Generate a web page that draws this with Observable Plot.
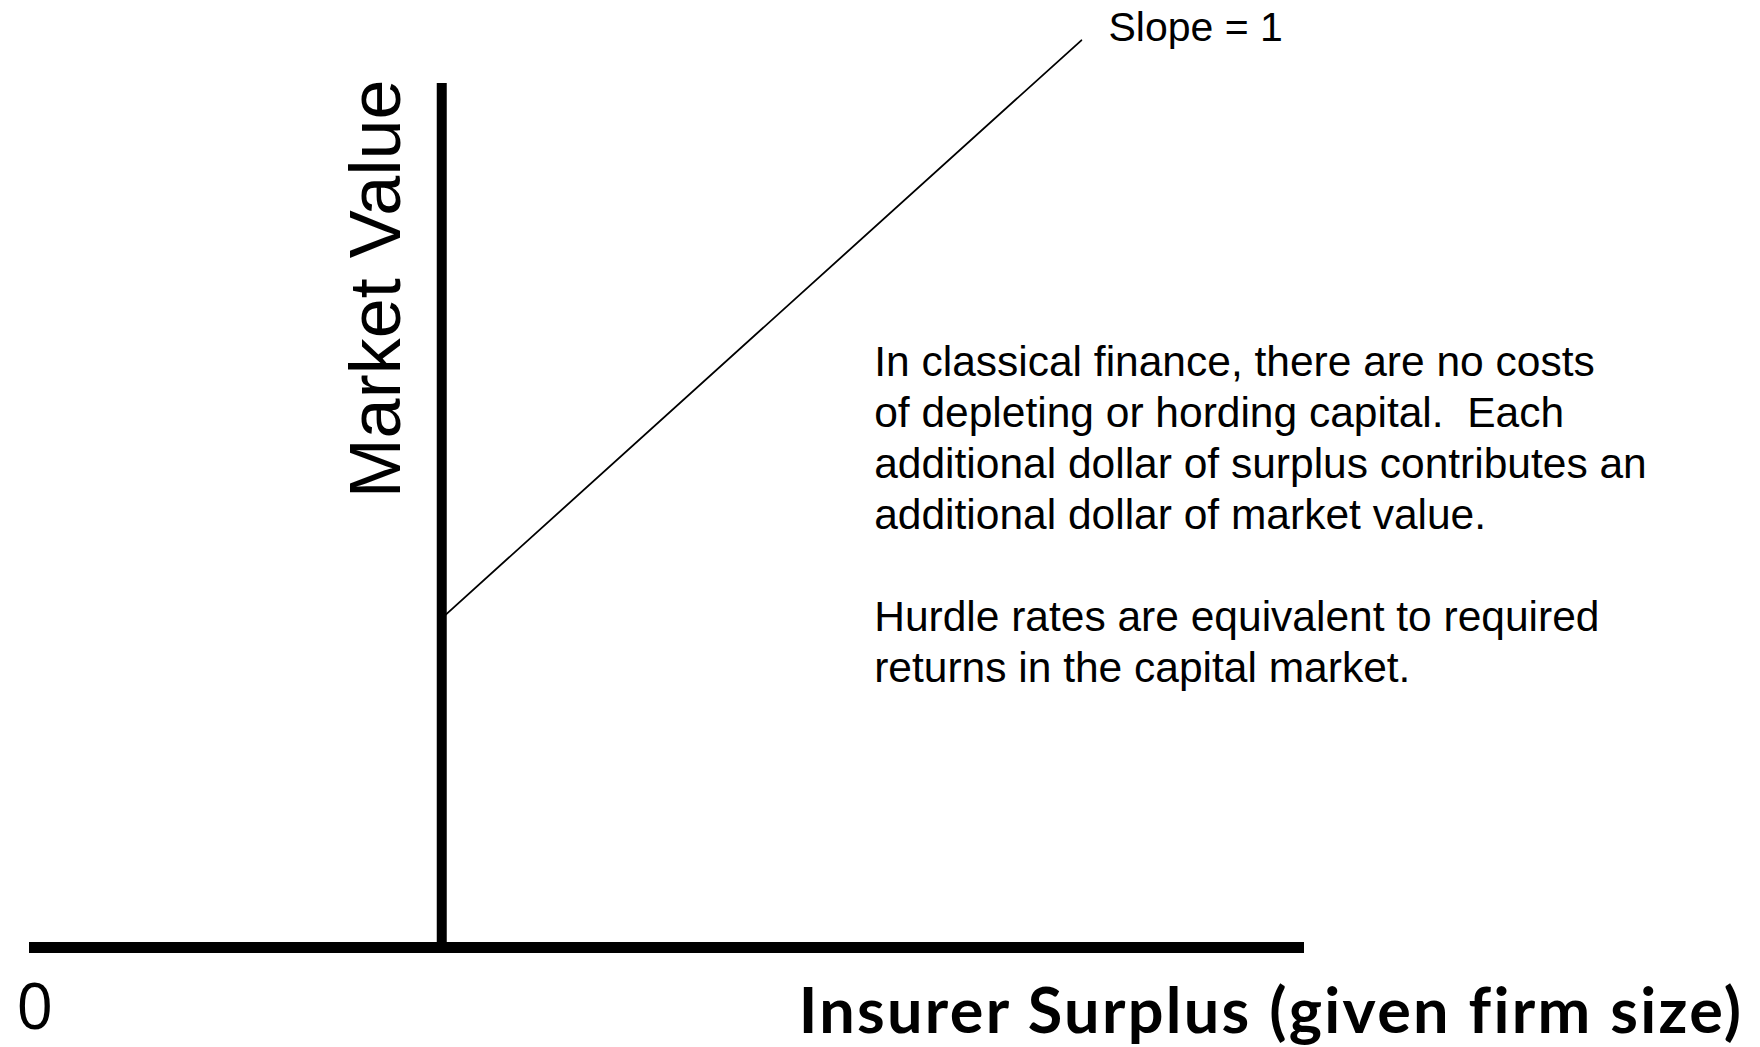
<!DOCTYPE html>
<html>
<head>
<meta charset="utf-8">
<script src="https://cdn.jsdelivr.net/npm/d3@7"></script>
<script src="https://cdn.jsdelivr.net/npm/@observablehq/plot@0.6"></script>
<style>
  html, body { margin: 0; padding: 0; background: #ffffff; }
  #chart svg { display: block; }
  .xtitle text { letter-spacing: 2.3px; }
</style>
</head>
<body>
<div id="chart"></div>
<script>
// ---- data ----
const axisSurplus = [0, 12];          // horizontal (surplus) axis extent
const axisValue = [0, 9];             // vertical (market value) axis extent
const wallSurplus = 3.88;             // surplus level where the value axis is drawn
const lineSurplus = [3.9, 9.9];       // slope = 1 line, surplus
const lineValue = [3.45, 9.45];       // slope = 1 line, market value
const xTitle = "Insurer Surplus (given firm size)";
const yTitle = "Market Value";
const originLabel = "0";
const slopeLabel = "Slope = 1";
const noteLines = [
  "In classical finance, there are no costs",
  "of depleting or hording capital.  Each",
  "additional dollar of surplus contributes an",
  "additional dollar of market value.",
  "",
  "Hurdle rates are equivalent to required",
  "returns in the capital market."
];

const linePts = lineSurplus.map((s, i) => ({surplus: s, value: lineValue[i]}));
const sans = "'Liberation Sans', Arial, Helvetica, sans-serif";

const chart = Plot.plot({
  width: 1760,
  height: 1047,
  marginLeft: 29,
  marginRight: 456,
  marginTop: 83,
  marginBottom: 100,
  x: {domain: axisSurplus, axis: null},
  y: {domain: axisValue, axis: null},
  style: {background: "#ffffff", overflow: "visible"},
  marks: [
    Plot.ruleY([0], {x1: axisSurplus[0], x2: axisSurplus[1], stroke: "#000", strokeWidth: 11}),
    Plot.ruleX([wallSurplus], {y1: axisValue[0], y2: axisValue[1], stroke: "#000", strokeWidth: 10}),
    Plot.line(linePts, {x: "surplus", y: "value", stroke: "#000", strokeWidth: 1.8}),
    Plot.text([slopeLabel], {x: 10.155, y: 9.58, text: d => d, textAnchor: "start",
      fontSize: 41, fontFamily: sans, fill: "#000"}),
    Plot.text([noteLines.join("\n")], {x: 7.95, y: 6.33, text: d => d, textAnchor: "start",
      lineAnchor: "top", lineHeight: 1.2, fontSize: 42.5, fontFamily: sans, fill: "#000"}),
    Plot.text([yTitle], {x: 3.27, y: 6.86, text: d => d, rotate: -90, textAnchor: "middle",
      fontSize: 72, fontFamily: sans, fill: "#000"}),
    Plot.text([originLabel], {x: 0.05, y: -0.64, text: d => d, textAnchor: "middle",
      fontSize: 64, fontWeight: 500, fontFamily: "'Open Sans', 'Noto Sans', sans-serif", fill: "#000"}),
    Plot.text([xTitle], {x: 16.13, y: -0.68, text: d => d, textAnchor: "end", className: "xtitle",
      fontSize: 63, fontWeight: "bold", fontFamily: "Lato, 'Open Sans', sans-serif", fill: "#000"})
  ]
});
document.getElementById("chart").appendChild(chart);
</script>
</body>
</html>
